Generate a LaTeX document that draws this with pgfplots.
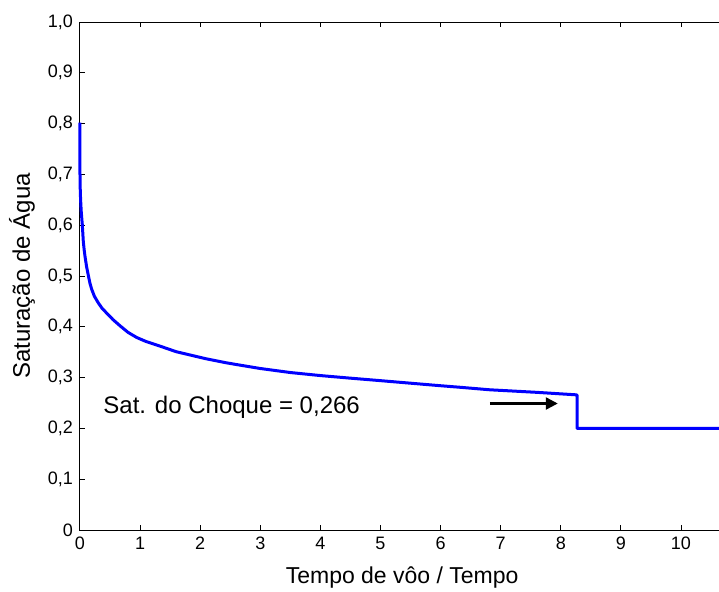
\documentclass[border=0pt]{standalone}
\usepackage{pgfplots}
\pgfplotsset{compat=1.18}
\usepackage{fontspec}
\setmainfont{Liberation Sans}
\usetikzlibrary{arrows.meta}
\begin{document}
\begin{tikzpicture}
\begin{axis}[
  x=30.05pt, y=254pt,
  xmin=0, xmax=10.72, ymin=0, ymax=1,
  xtick={0,1,...,10},
  ytick={0,0.1,...,1.0},
  yticklabels={0,{0,1},{0,2},{0,3},{0,4},{0,5},{0,6},{0,7},{0,8},{0,9},{1,0}},
  /pgf/number format/assume math mode=true,
  tick label style={font=\fontsize{9}{10}\selectfont, black},
  tick align=inside,
  major tick length=2.5pt,
  axis line style={line width=0.5pt, black},
  every tick/.style={black, line width=0.5pt},
  xlabel={Tempo de vôo / Tempo},
  ylabel={Saturação de Água},
  every axis x label/.style={at={([yshift=-24pt]axis description cs:0.5,0)}, anchor=center, font=\fontsize{11.5}{13}\selectfont},
  every axis y label/.style={at={([xshift=-29pt]axis description cs:0,0.5)}, anchor=center, rotate=90, font=\fontsize{12}{14}\selectfont},
  clip=false,
]
\addplot[color={rgb,255:red,0;green,0;blue,255}, line width=1.5pt, line join=round] coordinates {
(0,0.802) (0,0.70) (0.005,0.665) (0.011,0.648) (0.02,0.628) (0.039,0.600) (0.055,0.568)
(0.07,0.551) (0.083,0.539) (0.11,0.518) (0.139,0.501) (0.165,0.486) (0.194,0.474)
(0.24,0.460) (0.305,0.447) (0.37,0.436) (0.444,0.427) (0.55,0.414) (0.666,0.402)
(0.8,0.389) (0.943,0.379) (1.1,0.371) (1.331,0.362) (1.6,0.351) (1.886,0.343)
(2.1,0.337) (2.44,0.329) (2.995,0.318) (3.5,0.310) (4.0,0.304) (4.49,0.299)
(5.0,0.294) (5.5,0.289) (6.0,0.284) (6.32,0.281) (6.82,0.276) (7.6,0.271)
(8.0,0.268) (8.27,0.266) (8.27,0.200) (10.72,0.200)
};
\addplot[black, line width=1.2pt, -{Triangle[length=6pt,width=6pt]}] coordinates {(6.82,0.249) (7.95,0.249)};
\node[anchor=base west, font=\fontsize{12}{14}\selectfont, inner sep=0pt] at (axis cs:0.383,0.230) {Sat. do Choque = 0,266};
\coordinate (O) at (axis cs:0,0);
\coordinate (T) at (axis cs:0,1);
\end{axis}
\pgfresetboundingbox
\path[use as bounding box] ([xshift=-40pt,yshift=-30.5pt]O) rectangle ([xshift=319.5pt,yshift=11pt]T);
\end{tikzpicture}
\end{document}
